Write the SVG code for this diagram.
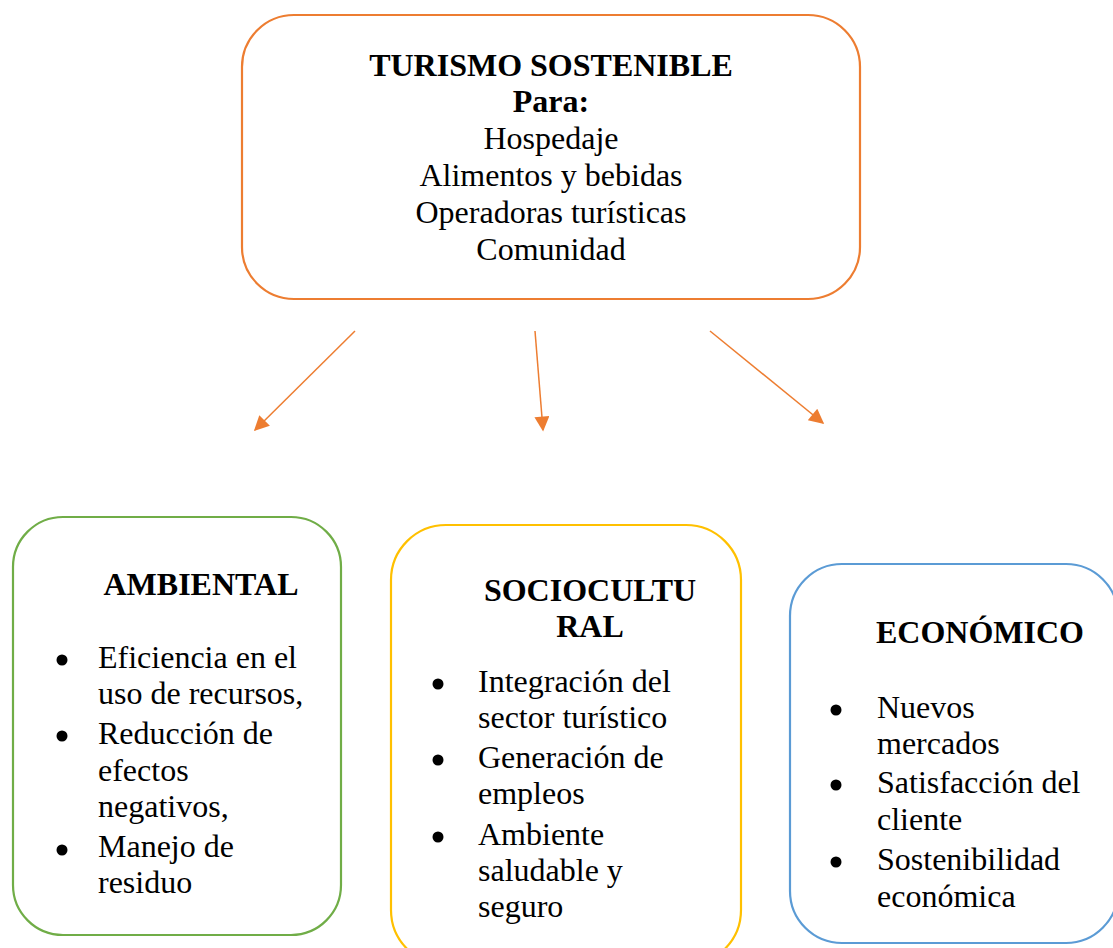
<svg xmlns="http://www.w3.org/2000/svg" width="1113" height="948" viewBox="0 0 1113 948">
<defs>
<style>
.t{font-family:"Liberation Serif","Times New Roman",serif;font-size:32px;fill:#000}
.b{font-weight:bold}
.c{text-anchor:middle}
.box{fill:#fff;stroke-width:2.2}
.dot{fill:#000}
.conn{stroke:#ED7D31;stroke-width:1.5;fill:none}
</style>
<marker id="ahb" viewBox="0 0 10 10" refX="9" refY="5" markerWidth="17" markerHeight="15" markerUnits="userSpaceOnUse" orient="auto"><path d="M0,0 L10,5 L0,10 Z" fill="#ED7D31"/></marker>
</defs>
<rect width="1113" height="948" fill="#fff"/>
<g id="n-top">
<rect class="box" x="242" y="15" width="618" height="284" rx="52" ry="52" stroke="#ED7D31"/>
<text class="t b c" x="551" y="76">TURISMO SOSTENIBLE</text>
<text class="t b c" x="551" y="112">Para:</text>
<text class="t c" x="551" y="149">Hospedaje</text>
<text class="t c" x="551" y="186">Alimentos y bebidas</text>
<text class="t c" x="551" y="223">Operadoras turísticas</text>
<text class="t c" x="551" y="260">Comunidad</text>
</g>
<g id="connectors">
<line class="conn" x1="355" y1="331" x2="255" y2="430" marker-end="url(#ahb)"/>
<line class="conn" x1="535" y1="331" x2="543" y2="430" marker-end="url(#ahb)"/>
<line class="conn" x1="710" y1="331" x2="823" y2="423" marker-end="url(#ahb)"/>
</g>
<g id="n-ambiental">
<rect class="box" x="13" y="517" width="328" height="418" rx="50" ry="50" stroke="#70AD47"/>
<text class="t b c" x="201" y="595">AMBIENTAL</text>
<circle class="dot" cx="62" cy="660" r="5.5"/>
<circle class="dot" cx="62" cy="736" r="5.5"/>
<circle class="dot" cx="62" cy="850" r="5.5"/>
<text class="t" x="98" y="668">Eficiencia en el</text>
<text class="t" x="98" y="704">uso de recursos,</text>
<text class="t" x="98" y="744">Reducción de</text>
<text class="t" x="98" y="781">efectos</text>
<text class="t" x="98" y="817">negativos,</text>
<text class="t" x="98" y="857">Manejo de</text>
<text class="t" x="98" y="893">residuo</text>
</g>
<g id="n-sociocultural">
<rect class="box" x="391" y="525" width="350" height="440" rx="55" ry="55" stroke="#FFC000"/>
<text class="t b c" x="590" y="601">SOCIOCULTU</text>
<text class="t b c" x="590" y="637">RAL</text>
<circle class="dot" cx="438" cy="684" r="5.5"/>
<circle class="dot" cx="438" cy="760" r="5.5"/>
<circle class="dot" cx="438" cy="837" r="5.5"/>
<text class="t" x="478" y="692">Integración del</text>
<text class="t" x="478" y="728">sector turístico</text>
<text class="t" x="478" y="768">Generación de</text>
<text class="t" x="478" y="804">empleos</text>
<text class="t" x="478" y="845">Ambiente</text>
<text class="t" x="478" y="881">saludable y</text>
<text class="t" x="478" y="917">seguro</text>
</g>
<g id="n-economico">
<rect class="box" x="790" y="564" width="328" height="379" rx="52" ry="52" stroke="#5B9BD5"/>
<text class="t b c" x="980" y="643">ECONÓMICO</text>
<circle class="dot" cx="836" cy="710" r="5.5"/>
<circle class="dot" cx="836" cy="785" r="5.5"/>
<circle class="dot" cx="836" cy="862" r="5.5"/>
<text class="t" x="877" y="718">Nuevos</text>
<text class="t" x="877" y="754">mercados</text>
<text class="t" x="877" y="793">Satisfacción del</text>
<text class="t" x="877" y="830">cliente</text>
<text class="t" x="877" y="870">Sostenibilidad</text>
<text class="t" x="877" y="907">económica</text>
</g>
</svg>
